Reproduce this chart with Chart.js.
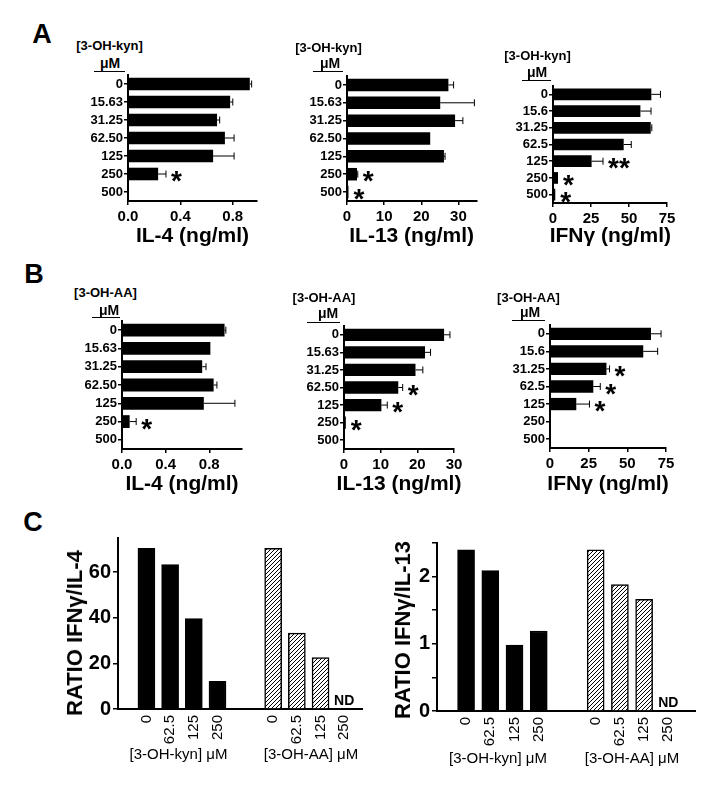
<!DOCTYPE html>
<html>
<head>
<meta charset="utf-8">
<script src="https://cdn.jsdelivr.net/npm/chart.js@4.4.1/dist/chart.umd.min.js"></script>
<style>
body { margin: 0; background: #fff; }
#fig { position: relative; width: 717px; height: 790px; font-family: "Liberation Sans", Arial, sans-serif; color: #000; }
#fig canvas { position: absolute; }
.t { position: absolute; transform: translate(-50%, -50%); white-space: nowrap; line-height: 1; }
.ul { position: absolute; height: 0; border-top: 1.5px solid #000; }
</style>
</head>
<body>
<div id="fig"></div>
<script>
// concentrations on the y axes of A and B
const concLabels = ['0', '15.63', '31.25', '62.50', '125', '250', '500'];
const concLabelsIfn = ['0', '15.6', '31.25', '62.5', '125', '250', '500'];

// A : 3-OH-kyn
const il4Kyn = [0.93, 0.78, 0.68, 0.74, 0.65, 0.23, 0];
const il4KynErr = [0.014, 0.02, 0.02, 0.07, 0.16, 0.06, 0];
const il4KynSig = ['', '', '', '', '', '*', ''];
const il13Kyn = [27.3, 25.1, 29.1, 22.4, 26.1, 2.7, 0.4];
const il13KynErr = [1.4, 9.2, 2.1, 0, 0.3, 0.2, 0];
const il13KynSig = ['', '', '', '', '', '*', '*'];
const ifnKyn = [64.7, 57.5, 64.3, 46.5, 25.4, 3.3, 1.5];
const ifnKynErr = [6, 7, 0.7, 5, 7.5, 0, 0];
const ifnKynSig = ['', '', '', '', '**', '*', '*'];

// B : 3-OH-AA
const il4AA = [0.94, 0.81, 0.735, 0.84, 0.75, 0.07, 0];
const il4AAErr = [0.012, 0, 0.035, 0.03, 0.285, 0.06, 0];
const il4AASig = ['', '', '', '', '', '*', ''];
const il13AA = [27.3, 22.1, 19.5, 14.8, 10.2, 0.5, 0.2];
const il13AAErr = [1.6, 1.5, 2, 1.2, 1.6, 0, 0];
const il13AASig = ['', '', '', '*', '*', '*', ''];
const ifnAA = [65.3, 60.3, 36.5, 28, 17, 0, 0];
const ifnAAErr = [6.5, 9.3, 2, 4.5, 8.5, 0, 0];
const ifnAASig = ['', '', '*', '*', '*', '', ''];

// C : ratios
const doseC = ['0', '62.5', '125', '250'];
const ratioIl4Kyn = [70.5, 63.3, 39.7, 12.1];
const ratioIl4AA = [70.5, 33.3, 22.6, null];
const ratioIl13Kyn = [2.4, 2.09, 0.98, 1.19];
const ratioIl13AA = [2.4, 1.88, 1.66, null];

const FONT = '"Liberation Sans", Arial, sans-serif';
Chart.defaults.font.family = FONT;
Chart.defaults.color = '#000';

const fig = document.getElementById('fig');

function text(x, y, s, css) {
  const d = document.createElement('div');
  d.className = 't';
  d.textContent = s;
  d.style.left = x + 'px';
  d.style.top = y + 'px';
  d.style.cssText += css;
  fig.appendChild(d);
}
function underline(x1, x2, y) {
  const d = document.createElement('div');
  d.className = 'ul';
  d.style.left = x1 + 'px';
  d.style.top = y + 'px';
  d.style.width = (x2 - x1) + 'px';
  fig.appendChild(d);
}

function makeCanvas(area, pad) {
  const cv = document.createElement('canvas');
  cv.width = Math.round(area[1] - area[0] + pad.l + pad.r);
  cv.height = Math.round(area[3] - area[2] + pad.t + pad.b);
  cv.style.left = Math.round(area[0] - pad.l) + 'px';
  cv.style.top = Math.round(area[2] - pad.t) + 'px';
  fig.appendChild(cv);
  return cv;
}

function fitBox(s, w, h) {
  if (w !== null) s.width = w;
  if (h !== null) s.height = h;
  s.paddingLeft = s.paddingRight = s.paddingTop = s.paddingBottom = 0;
}

// error whiskers and significance stars for the horizontal bars
const errStars = {
  id: 'errStars',
  afterDatasetsDraw(chart) {
    const ctx = chart.ctx;
    const xs = chart.scales.x;
    const ds = chart.data.datasets[0];
    const meta = chart.getDatasetMeta(0);
    ctx.save();
    ctx.strokeStyle = '#000';
    ctx.fillStyle = '#000';
    ctx.lineWidth = 1;
    meta.data.forEach((bar, i) => {
      const v = ds.data[i], e = ds.err[i];
      const x0 = xs.getPixelForValue(v), x1 = xs.getPixelForValue(v + e);
      if (e > 0) {
        ctx.beginPath();
        ctx.moveTo(x0, bar.y);
        ctx.lineTo(x1, bar.y);
        ctx.moveTo(x1, bar.y - 3.5);
        ctx.lineTo(x1, bar.y + 3.5);
        ctx.stroke();
      }
      if (ds.sig[i]) {
        ctx.font = 'bold 28px ' + FONT;
        ctx.textAlign = 'left';
        ctx.textBaseline = 'alphabetic';
        ctx.fillText(ds.sig[i], x1 + 5, bar.y + 16);
      }
    });
    ctx.restore();
  }
};

function hbar(o) {
  const pad = { l: 44, r: 14, t: 4, b: 26 };
  const cv = makeCanvas(o.area, pad);
  new Chart(cv, {
    type: 'bar',
    data: {
      labels: o.labels,
      datasets: [{ data: o.values, err: o.err, sig: o.sig, backgroundColor: '#000', barPercentage: 0.7, categoryPercentage: 1 }]
    },
    options: {
      indexAxis: 'y',
      responsive: false,
      animation: false,
      layout: { padding: { top: pad.t, right: pad.r, left: 0, bottom: 0 } },
      plugins: { legend: { display: false }, tooltip: { enabled: false } },
      scales: {
        x: {
          min: 0, max: o.max,
          ticks: { stepSize: o.step, includeBounds: false, padding: 3, font: { size: 15, weight: 'bold' }, callback: v => v.toFixed(o.dec) },
          grid: { drawOnChartArea: false, color: '#000', lineWidth: 1.5, tickLength: 4 },
          border: { color: '#000', width: 2 },
          afterFit: s => fitBox(s, null, pad.b)
        },
        y: {
          ticks: { autoSkip: false, padding: 1, font: { size: 13, weight: 'bold' } },
          grid: { drawOnChartArea: false, offset: false, color: '#000', lineWidth: 1.5, tickLength: 4 },
          border: { color: '#000', width: 2 },
          afterFit: s => fitBox(s, pad.l, null)
        }
      }
    },
    plugins: [errStars]
  });
}

function hatchPattern() {
  const c = document.createElement('canvas');
  c.width = c.height = 4;
  const g = c.getContext('2d');
  g.fillStyle = '#fff';
  g.fillRect(0, 0, 4, 4);
  g.strokeStyle = '#000';
  g.lineWidth = 1;
  g.beginPath();
  g.moveTo(0, 4); g.lineTo(4, 0);
  g.moveTo(-1, 1); g.lineTo(1, -1);
  g.moveTo(3, 5); g.lineTo(5, 3);
  g.stroke();
  return g.createPattern(c, 'repeat');
}

const groupGap = 5.35;
const ndLabel = {
  id: 'ndLabel',
  afterDatasetsDraw(chart) {
    const ctx = chart.ctx;
    const xs = chart.scales.x, ys = chart.scales.y;
    ctx.save();
    ctx.font = 'bold 14px ' + FONT;
    ctx.fillStyle = '#000';
    ctx.textAlign = 'center';
    ctx.textBaseline = 'alphabetic';
    chart.data.datasets.forEach(ds => {
      ds.data.forEach(p => {
        if (p.y === null) ctx.fillText('ND', xs.getPixelForValue(p.x), ys.getPixelForValue(0) - 4);
      });
    });
    ctx.restore();
  }
};

function cbar(o) {
  const pad = { l: 50, r: 6, t: 10, b: 48 };
  const cv = makeCanvas(o.area, pad);
  const xKyn = doseC.map((d, i) => i);
  const xAA = doseC.map((d, i) => i + groupGap);
  const tickPos = xKyn.concat(xAA);
  const tickText = doseC.concat(doseC);
  new Chart(cv, {
    type: 'bar',
    data: {
      datasets: [
        { data: o.kyn.map((v, i) => ({ x: xKyn[i], y: v })), backgroundColor: '#000', borderColor: '#000', borderWidth: 1.5 },
        { data: o.aa.map((v, i) => ({ x: xAA[i], y: v })), backgroundColor: hatchPattern(), borderColor: '#000', borderWidth: 1.5 }
      ]
    },
    options: {
      responsive: false,
      animation: false,
      datasets: { bar: { grouped: false, barThickness: 17 } },
      layout: { padding: { top: pad.t, right: pad.r, left: 0, bottom: 0 } },
      plugins: { legend: { display: false }, tooltip: { enabled: false } },
      scales: {
        x: {
          type: 'linear', min: -1.2, max: o.xmax, offset: false,
          afterBuildTicks: s => { s.ticks = tickPos.map(v => ({ value: v })); },
          ticks: {
            autoSkip: false, minRotation: 90, maxRotation: 90, padding: 6,
            font: { size: 15, family: '"Liberation Sans Narrow", "Liberation Sans", Arial, sans-serif' },
            callback: (v, i) => tickText[i]
          },
          grid: { display: false, drawTicks: false },
          border: { color: '#000', width: 2 },
          afterFit: s => fitBox(s, null, pad.b)
        },
        y: {
          min: 0, max: o.ymax,
          ticks: {
            stepSize: o.step, includeBounds: false, padding: 2, font: { size: 20, weight: 'bold' },
            callback: v => Math.abs(v / o.labelStep - Math.round(v / o.labelStep)) < 1e-6 ? String(Math.round(v * 10) / 10) : ''
          },
          grid: { drawOnChartArea: false, color: '#000', lineWidth: 1.5, tickLength: 5 },
          border: { color: '#000', width: 2 },
          afterFit: s => fitBox(s, pad.l, null)
        }
      }
    },
    plugins: [ndLabel]
  });
}

// ---- panel A
hbar({ area: [128, 257, 75, 201], labels: concLabels, values: il4Kyn, err: il4KynErr, sig: il4KynSig, max: 0.985, step: 0.4, dec: 1 });
hbar({ area: [346.7, 476.7, 76, 201], labels: concLabels, values: il13Kyn, err: il13KynErr, sig: il13KynSig, max: 35, step: 10, dec: 0 });
hbar({ area: [553.3, 667.3, 86, 202.5], labels: concLabelsIfn, values: ifnKyn, err: ifnKynErr, sig: ifnKynSig, max: 75, step: 25, dec: 0 });
// ---- panel B
hbar({ area: [122.3, 242, 320.5, 448], labels: concLabels, values: il4AA, err: il4AAErr, sig: il4AASig, max: 1.1, step: 0.4, dec: 1 });
hbar({ area: [344.3, 454, 326.2, 449.5], labels: concLabels, values: il13AA, err: il13AAErr, sig: il13AASig, max: 30, step: 10, dec: 0 });
hbar({ area: [550, 666, 324.5, 447], labels: concLabelsIfn, values: ifnAA, err: ifnAAErr, sig: ifnAASig, max: 75, step: 25, dec: 0 });
// ---- panel C
cbar({ area: [118.3, 362, 538.3, 709.3], kyn: ratioIl4Kyn, aa: ratioIl4AA, ymax: 75, step: 10, labelStep: 20, xmax: 9.1 });
cbar({ area: [436.7, 695, 542.7, 710.7], kyn: ratioIl13Kyn, aa: ratioIl13AA, ymax: 2.5, step: 0.5, labelStep: 1, xmax: 9.45 });

// ---- texts
const B = 'font-weight:bold;';
text(42, 34, 'A', B + 'font-size:27px;');
text(34, 274, 'B', B + 'font-size:27px;');
text(33, 522, 'C', B + 'font-size:27px;');

[[109.5, 45, 110, 63, 94, 125, 71, '[3-OH-kyn]'],
 [328.5, 47, 330, 63, 313, 343, 71, '[3-OH-kyn]'],
 [537.5, 55, 537, 72, 522, 551, 80, '[3-OH-kyn]'],
 [105.5, 292, 109, 310, 92, 120, 317, '[3-OH-AA]'],
 [324, 297, 328, 313, 307, 340, 322, '[3-OH-AA]'],
 [528.5, 297, 530, 312, 512, 545, 320, '[3-OH-AA]']].forEach(h => {
  text(h[0], h[1], h[7], B + 'font-size:13px;');
  text(h[2], h[3], '\u03bcM', B + 'font-size:14px;');
  underline(h[4], h[5], h[6]);
});

text(192.5, 234, 'IL-4 (ng/ml)', B + 'font-size:21px;');
text(411.7, 234, 'IL-13 (ng/ml)', B + 'font-size:21px;');
text(610.3, 234, 'IFN\u03b3 (ng/ml)', B + 'font-size:21px;');
text(182, 482, 'IL-4 (ng/ml)', B + 'font-size:21px;');
text(399, 482, 'IL-13 (ng/ml)', B + 'font-size:21px;');
text(608, 482, 'IFN\u03b3 (ng/ml)', B + 'font-size:21px;');

text(75, 633, 'RATIO IFN\u03b3/IL-4', B + 'font-size:22px;transform:translate(-50%,-50%) rotate(-90deg);');
text(403, 630, 'RATIO IFN\u03b3/IL-13', B + 'font-size:22px;transform:translate(-50%,-50%) rotate(-90deg);');
text(178.5, 753, '[3-OH-kyn] \u03bcM', 'font-size:15px;');
text(311, 753, '[3-OH-AA] \u03bcM', 'font-size:15px;');
text(498, 757, '[3-OH-kyn] \u03bcM', 'font-size:15px;');
text(632, 757, '[3-OH-AA] \u03bcM', 'font-size:15px;');
</script>
</body>
</html>
